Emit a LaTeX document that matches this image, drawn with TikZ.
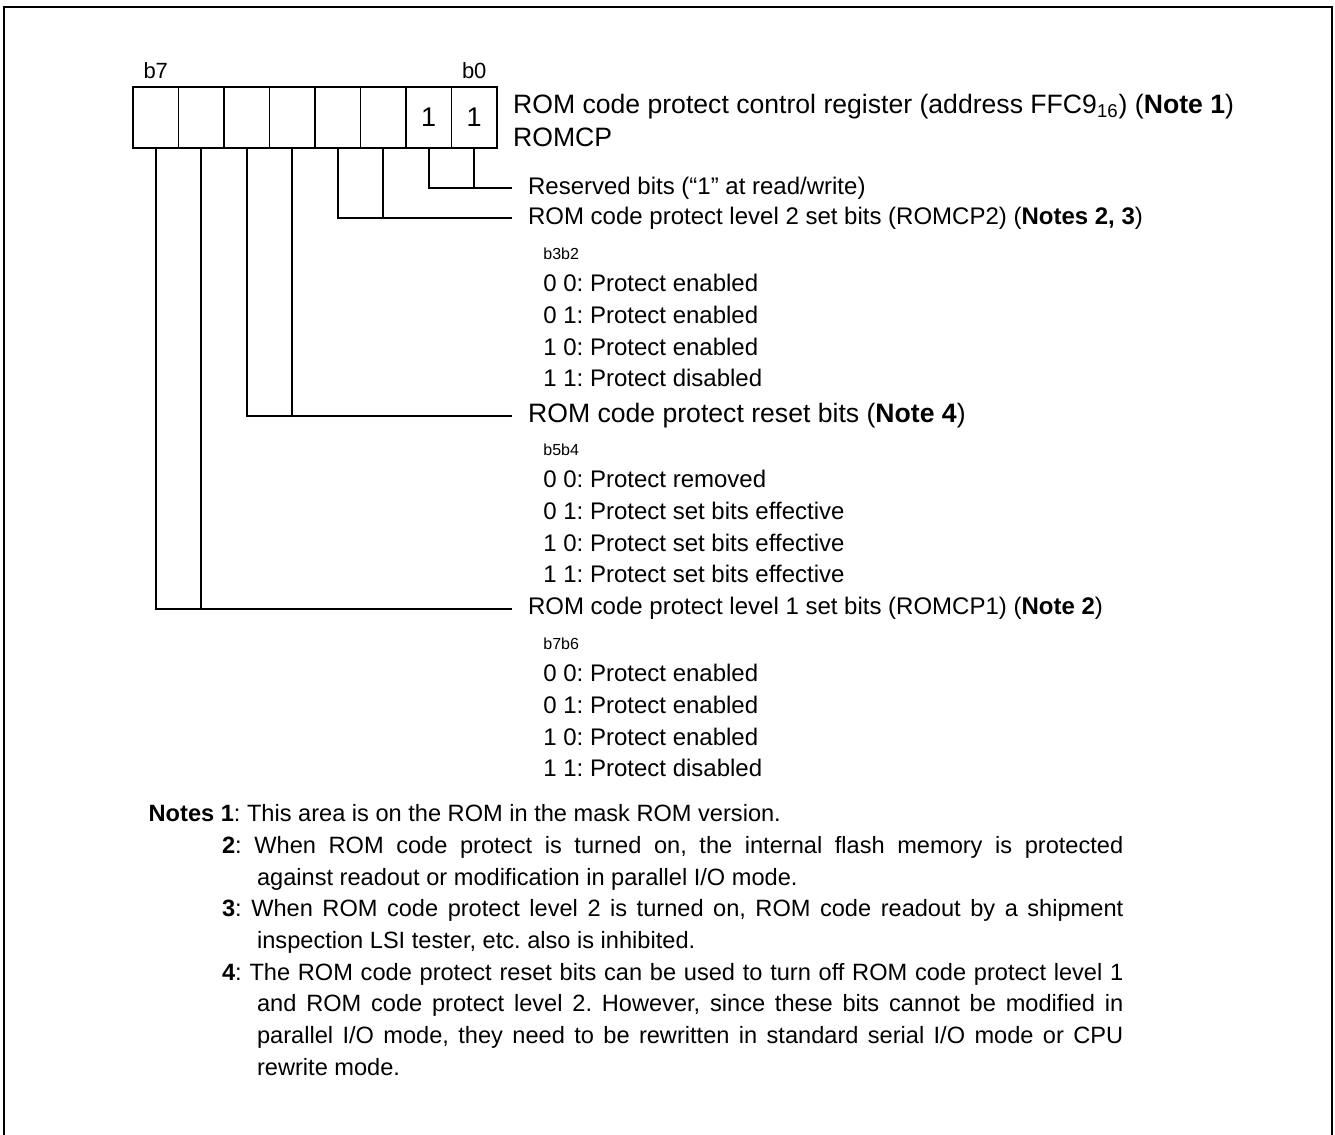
\documentclass[tikz,border=0pt]{standalone}
\usepackage{fontspec}
\setmainfont{Liberation Sans}
\frenchspacing
\usetikzlibrary{positioning}

\begin{document}
\begin{tikzpicture}[x=0.5pt,y=-0.5pt,
  cell/.style={draw,line width=0.9pt,minimum width=22.75pt,minimum height=30.2pt,inner sep=0pt,outer sep=0pt,font=\fontsize{13.5}{15}\selectfont},
  bl/.style={font=\fontsize{11}{13}\selectfont,inner sep=0pt},
  lb/.style={font=\fontsize{12}{14}\selectfont,inner xsep=8pt,inner ysep=0pt,anchor=west},
  big/.style={font=\fontsize{13.3}{16}\selectfont,inner sep=0pt,anchor=base west},
  opt/.style={font=\fontsize{12}{14}\selectfont,inner sep=0pt,anchor=base west},
  tiny/.style={font=\fontsize{8}{10}\selectfont,inner sep=0pt,anchor=base west},
  note/.style={font=\fontsize{11.8}{15.85}\selectfont,inner sep=0pt,anchor=base west,text width=433.1pt,align=justify},
  wire/.style={line width=0.9pt}]
\useasboundingbox (0,0) rectangle (1335,1135);
% frame
\draw[line width=1.4pt] (4,1135) -- (4,7) -- (1332,7) -- (1332,1135);
% register
\foreach \i/\v in {0/1,1/1,2/,3/,4/,5/,6/,7/}
  \node[cell] (c\i) at ({474.25-45.5*\i},117.5) {\v};
\node[bl,above=4pt of c7] (lb7) {b7};
\node[bl,above=4pt of c0] (lb0) {b0};
\node[big] (regname) at (512.7,113.3) {ROM code protect control register (address FFC9\textsubscript{16}) (\textbf{Note 1})};
\node[big] (regsym) at (512.7,146.7) {ROMCP};
% bit fields
\node[lb] (lres) at (511.7,188.3) {Reserved bits (“1” at read/write)};
\node[lb] (lp2) at (511.7,218.3) {ROM code protect level 2 set bits (ROMCP2) (\textbf{Notes 2, 3})};
\node[lb,font=\fontsize{13.3}{16}\selectfont] (lrst) at (511.7,416) {ROM code protect reset bits (\textbf{Note 4})};
\node[lb] (lp1) at (511.7,608.7) {ROM code protect level 1 set bits (ROMCP1) (\textbf{Note 2})};
\draw[wire] (c1.south) |- (lres.west);
\draw[wire] (c0.south) -- (c0.south |- lres.west);
\draw[wire] (c3.south) |- (lp2.west);
\draw[wire] (c2.south) -- (c2.south |- lp2.west);
\draw[wire] (c5.south) |- (lrst.west);
\draw[wire] (c4.south) -- (c4.south |- lrst.west);
\draw[wire] (c7.south) |- (lp1.west);
\draw[wire] (c6.south) -- (c6.south |- lp1.west);
% settings
\node[tiny] (h2) at (543,259.3) {b3b2};
\foreach \t [count=\i] in {0 0: Protect enabled,0 1: Protect enabled,1 0: Protect enabled,1 1: Protect disabled}
  \node[opt] (p2o\i) at (543,{260+31.7*\i}) {\t};
\node[tiny] (hr) at (543,455) {b5b4};
\foreach \t [count=\i] in {0 0: Protect removed,0 1: Protect set bits effective,1 0: Protect set bits effective,1 1: Protect set bits effective}
  \node[opt] (pro\i) at (543,{456+31.7*\i}) {\t};
\node[tiny] (h1) at (543,649.7) {b7b6};
\foreach \t [count=\i] in {0 0: Protect enabled,0 1: Protect enabled,1 0: Protect enabled,1 1: Protect disabled}
  \node[opt] (p1o\i) at (543,{650+31.7*\i}) {\t};
% notes
\node[opt,font=\fontsize{11.8}{15.85}\selectfont] (n1) at (148.3,821.7) {\textbf{Notes 1}: This area is on the ROM in the mask ROM version.};
\node[note] (n2) at (256.7,853.3) {\tolerance=10000\noindent\hskip-17.5pt\textbf{2}: When ROM code protect is turned on, the internal flash memory is protected\linebreak against readout or modification in parallel I/O mode.};
\node[note] (n3) at (256.7,916.7) {\tolerance=10000\noindent\hskip-17.5pt\textbf{3}: When ROM code protect level 2 is turned on, ROM code readout by a shipment\linebreak inspection LSI tester, etc. also is inhibited.};
\node[note] (n4) at (256.7,980) {\tolerance=10000\noindent\hskip-17.5pt\textbf{4}: The ROM code protect reset bits can be used to turn off ROM code protect level 1\linebreak and ROM code protect level 2. However, since these bits cannot be modified in\linebreak parallel I/O mode, they need to be rewritten in standard serial I/O mode or CPU\linebreak rewrite mode.};
\end{tikzpicture}
\end{document}
